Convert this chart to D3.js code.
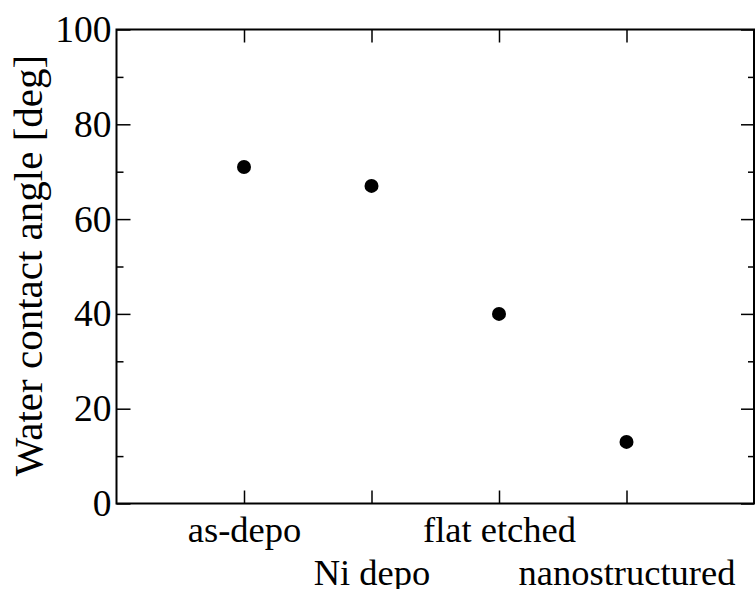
<!DOCTYPE html>
<html>
<head>
<meta charset="utf-8">
<script src="https://cdn.jsdelivr.net/npm/d3@7"></script>
<style>
    body { margin: 0; background: #fff; }
    text { font-family: "Liberation Serif", "Times New Roman", serif; fill: #000; }
</style>
</head>
<body>
<div id="chart"></div>
<script>
const categories = ["as-depo", "Ni depo", "flat etched", "nanostructured"];
const angles = [71, 67, 40, 13];
const majorTicks = [0, 20, 40, 60, 80, 100];
const minorTicks = [10, 30, 50, 70, 90];

const width = 755, height = 589;
const plotLeft = 116.5, plotRight = 754, plotTop = 29.5, plotBottom = 503.5;

const svg = d3.select("#chart")
    .append("svg")
    .attr("width", width)
    .attr("height", height);

const x = d3.scaleLinear().domain([0, categories.length + 1]).range([plotLeft, plotRight]);
const y = d3.scaleLinear().domain([0, 100]).range([plotBottom, plotTop]);

// category ticks on bottom and top
const xAxis = svg.append("g")
    .attr("transform", `translate(0,${plotBottom})`)
    .call(d3.axisBottom(x)
        .tickValues(d3.range(1, categories.length + 1))
        .tickSizeInner(-13).tickSizeOuter(0)
        .tickFormat((d, i) => categories[i]));
xAxis.select(".domain").remove();
xAxis.selectAll(".tick line").attr("stroke-width", 1.5);
xAxis.selectAll(".tick text")
    .attr("font-size", 36.5)
    .attr("dy", 0)
    .attr("y", (d, i) => i % 2 === 0 ? 38.5 : 81);

const xTop = svg.append("g")
    .attr("transform", `translate(0,${plotTop})`)
    .call(d3.axisTop(x)
        .tickValues(d3.range(1, categories.length + 1))
        .tickSizeInner(-13).tickSizeOuter(0)
        .tickFormat(""));
xTop.select(".domain").remove();
xTop.selectAll(".tick line").attr("stroke-width", 1.5);

// y axis left with labels, right without
const yAxis = svg.append("g")
    .attr("transform", `translate(${plotLeft},0)`)
    .call(d3.axisLeft(y)
        .tickValues(majorTicks)
        .tickSizeInner(-14).tickSizeOuter(0).tickPadding(5));
yAxis.select(".domain").remove();
yAxis.selectAll(".tick line").attr("stroke-width", 1.5);
yAxis.selectAll(".tick text").attr("font-size", 37.5);

const yMinor = svg.append("g")
    .attr("transform", `translate(${plotLeft},0)`)
    .call(d3.axisLeft(y).tickValues(minorTicks).tickSizeInner(-7).tickSizeOuter(0).tickFormat(""));
yMinor.select(".domain").remove();
yMinor.selectAll(".tick line").attr("stroke-width", 1.5);

const yRight = svg.append("g")
    .attr("transform", `translate(${plotRight},0)`)
    .call(d3.axisRight(y).tickValues(majorTicks).tickSizeInner(-13).tickSizeOuter(0).tickFormat(""));
yRight.select(".domain").remove();
yRight.selectAll(".tick line").attr("stroke-width", 1.5);

const yRightMinor = svg.append("g")
    .attr("transform", `translate(${plotRight},0)`)
    .call(d3.axisRight(y).tickValues(minorTicks).tickSizeInner(-6).tickSizeOuter(0).tickFormat(""));
yRightMinor.select(".domain").remove();
yRightMinor.selectAll(".tick line").attr("stroke-width", 1.5);

// frame
svg.append("rect")
    .attr("x", plotLeft)
    .attr("y", plotTop)
    .attr("width", plotRight - plotLeft)
    .attr("height", plotBottom - plotTop)
    .attr("fill", "none")
    .attr("stroke", "black")
    .attr("stroke-width", 2);

svg.append("text")
    .attr("transform", "translate(42,265.5) rotate(-90)")
    .attr("text-anchor", "middle")
    .attr("font-size", 41)
    .text("Water contact angle [deg]");

svg.selectAll("circle")
    .data(angles)
    .enter().append("circle")
    .attr("cx", (d, i) => x(i + 1))
    .attr("cy", d => y(d))
    .attr("r", 7)
    .style("fill", "black");
</script>
</body>
</html>
